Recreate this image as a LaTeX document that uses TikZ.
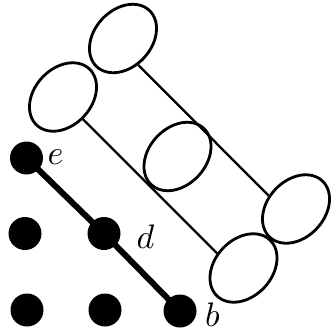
\documentclass[tikz,border=0pt]{standalone}
\usetikzlibrary{shapes.geometric}
\begin{document}
\begin{tikzpicture}[x=1pt,y=-1pt,
  dot/.style={circle,fill=black,inner sep=0pt,minimum size=33pt},
  ring/.style={ellipse,draw=black,line width=2.8pt,inner sep=0pt,
    minimum width=77pt,minimum height=57pt,rotate=47},
  tube/.style={line width=2.3pt},
  path3/.style={line width=6pt},
  lab/.style={scale=3.4,inner sep=0pt,anchor=base}]
\useasboundingbox (0,0) rectangle (331,332);
% ellipses
\node[ring] (E1) at (123,38.5) {};
\node[ring] (E2) at (63,97) {};
\node[ring] (E3) at (177.5,156.5) {};
\node[ring] (E4) at (296,209) {};
\node[ring] (E5) at (243.5,268) {};
\draw[tube] (E1.-107) -- (E4.107);
\draw[tube] (E2.-95) -- (E5.104);
% dots
\node[dot] (e) at (26.5,158) {};
\node[dot] (l1) at (25,233.5) {};
\node[dot] (d) at (104,233.5) {};
\node[dot] (l2) at (27,310) {};
\node[dot] (l3) at (105,310) {};
\node[dot] (b) at (180,311) {};
\draw[path3] (e.center) -- (d.center) -- (b.center);
\node[lab] (le) at (55.5,164) {$e$};
\node[lab] (ld) at (145.5,248) {$d$};
\node[lab] (lb) at (212.5,326.5) {$b$};
\end{tikzpicture}
\end{document}
